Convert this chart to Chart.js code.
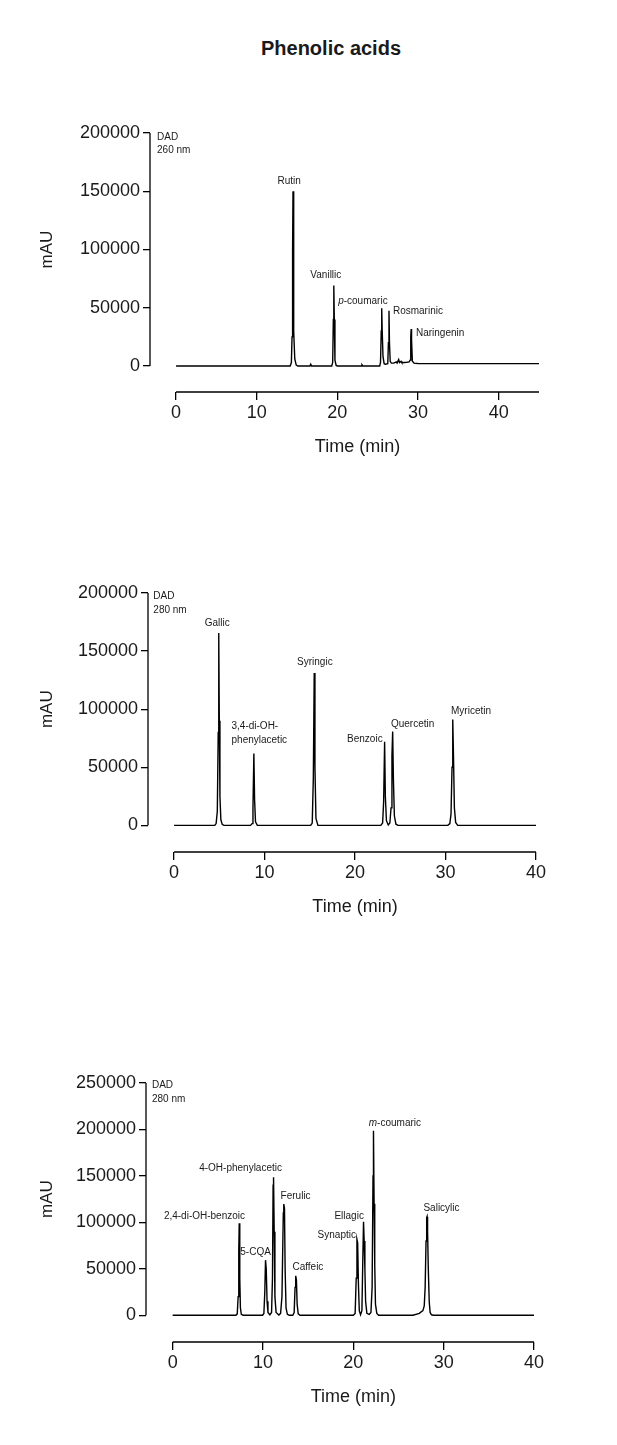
<!DOCTYPE html>
<html>
<head>
<meta charset="utf-8">
<script src="https://cdn.jsdelivr.net/npm/chart.js@4.4.1/dist/chart.umd.min.js"></script>
<style>
  body { margin: 0; background: #fff; width: 617px; height: 1445px; position: relative; overflow: hidden; }
  #title { position: absolute; left: 181px; top: 36px; width: 300px; text-align: center;
           font: bold 20px "Liberation Sans", Arial, sans-serif; line-height: 24px; color: #1a1a1a; }
  canvas { position: absolute; left: 0; }
</style>
</head>
<body>
<div id="title">Phenolic acids</div>
<canvas id="c1" width="617" height="389" style="top:93px"></canvas>
<canvas id="c2" width="617" height="389" style="top:553px"></canvas>
<canvas id="c3" width="617" height="389" style="top:1043px"></canvas>

<script>
const trace260 = [
  [0, 0], [14.15, 0], [14.3, 3000], [14.38, 25000], [14.45, 100000], [14.5, 150000], [14.55, 105000],
  [14.62, 30000], [14.72, 6000], [14.9, 800], [15.1, 0],
  [16.6, 0], [16.7, 1500], [16.8, 0],
  [19.3, 0], [19.42, 3000], [19.5, 40000], [19.56, 69000], [19.62, 40000], [19.7, 5000], [19.85, 500], [20.0, 0],
  [22.95, 0], [23.05, 1000], [23.15, 0],
  [25.25, 0], [25.35, 3000], [25.44, 30000], [25.5, 49500], [25.56, 30000], [25.66, 8000], [25.8, 2000], [25.95, 1500],
  [26.25, 2000], [26.33, 20000], [26.4, 47500], [26.46, 20000], [26.55, 4000], [26.7, 2500],
  [27.0, 2500], [27.3, 3500], [27.4, 2500], [27.6, 5500], [27.7, 3000], [27.9, 4000], [28.0, 2800],
  [28.3, 3000], [28.6, 3200], [28.9, 3500],
  [29.02, 5000], [29.1, 25000], [29.15, 31800], [29.2, 22000], [29.3, 4000], [29.5, 2500], [30, 2200], [45, 2000]
];

const trace280a = [
  [0, 0], [4.5, 0], [4.65, 1500], [4.78, 12000], [4.88, 80000], [4.94, 165600], [5.0, 90000], [5.07, 25000],
  [5.17, 5000], [5.32, 800], [5.5, 0],
  [8.45, 0], [8.62, 1500], [8.72, 15000], [8.82, 61900], [8.9, 22000], [9.0, 3000], [9.2, 0],
  [15.1, 0], [15.27, 2000], [15.39, 40000], [15.49, 131200], [15.57, 50000], [15.68, 6000], [15.9, 0],
  [22.85, 0], [23.05, 2000], [23.16, 20000], [23.27, 71900], [23.35, 25000], [23.47, 4000], [23.67, 300],
  [23.85, 2000], [23.98, 15000], [24.08, 60000], [24.16, 80800], [24.24, 40000], [24.35, 8000], [24.52, 1000], [24.75, 0],
  [30.25, 0], [30.48, 1500], [30.61, 10000], [30.72, 50000], [30.8, 91100], [30.88, 60000], [30.98, 15000],
  [31.12, 2500], [31.35, 0], [40, 0]
];

const trace280b = [
  [0, 0], [7.0, 0], [7.15, 1500], [7.25, 20000], [7.32, 70000], [7.37, 98900], [7.43, 40000], [7.5, 8000], [7.6, 1000], [7.8, 0],
  [9.95, 0], [10.1, 2000], [10.2, 25000], [10.28, 59300], [10.36, 50000], [10.45, 15000], [10.55, 3000], [10.76, 500],
  [10.95, 3000], [11.05, 40000], [11.12, 140000], [11.17, 148600], [11.24, 90000], [11.32, 20000], [11.45, 3000], [11.76, 300],
  [11.95, 2000], [12.1, 20000], [12.25, 110000], [12.3, 119700], [12.38, 115000], [12.45, 50000], [12.55, 8000], [12.7, 1000], [12.9, 0],
  [13.3, 0], [13.45, 3000], [13.55, 30000], [13.62, 42400], [13.7, 38000], [13.78, 12000], [13.9, 1500], [14.1, 0],
  [20.0, 0], [20.2, 2000], [20.32, 40000], [20.4, 81700], [20.48, 78000], [20.56, 35000], [20.66, 5000], [20.8, 500],
  [20.95, 5000], [21.05, 60000], [21.13, 100700], [21.2, 80000], [21.28, 50000], [21.36, 15000], [21.5, 2000], [21.76, 800],
  [21.95, 3000], [22.08, 30000], [22.18, 150000], [22.23, 198500], [22.3, 120000], [22.37, 55000], [22.45, 12000], [22.6, 2000], [22.8, 0],
  [26.6, 0], [27.3, 2000], [27.7, 5000], [27.85, 10000], [27.95, 30000], [28.05, 80000], [28.12, 105000], [28.16, 106100],
  [28.22, 90000], [28.3, 50000], [28.4, 15000], [28.5, 3000], [28.65, 500], [28.85, 0], [40, 0]
];

// tick labels
const xTicks = [0, 10, 20, 30, 40];
const yTicks200 = [0, 50000, 100000, 150000, 200000];
const yTicks250 = [0, 50000, 100000, 150000, 200000, 250000];

// nazwy pików
const peaks260 = ["Rutin", "Vanillic", "p-coumaric", "Rosmarinic", "Naringenin"];
const peaks280a = ["Gallic", "3,4-di-OH-", "phenylacetic", "Syringic", "Benzoic", "Quercetin", "Myricetin"];
const peaks280b = ["2,4-di-OH-benzoic", "5-CQA", "4-OH-phenylacetic", "Ferulic", "Caffeic", "Synaptic", "Ellagic", "m-coumaric", "Salicylic"];

const FONT = '"Liberation Sans", Arial, sans-serif';
const INK = '#1a1a1a';

// --- rysowanie ---
function buildChart(id, trace, ax, notes) {
  // osie odsunięte od wykresu + podpisy pików
  const extras = {
    id: 'extras',
    afterDraw(chart) {
      const { ctx, chartArea: ca, scales: { x, y } } = chart;
      ctx.save();
      ctx.strokeStyle = '#000';
      ctx.lineWidth = 1.3;
      ctx.beginPath();
      ctx.moveTo(ca.left, y.getPixelForValue(0));
      ctx.lineTo(ca.left, y.getPixelForValue(ax.yMax));
      ctx.moveTo(x.getPixelForValue(0), ca.bottom);
      ctx.lineTo(x.getPixelForValue(ax.xMax), ca.bottom);
      ctx.stroke();

      ctx.fillStyle = INK;
      ctx.textBaseline = 'middle';
      ctx.textAlign = 'center';
      ctx.font = '18px ' + FONT;
      ctx.fillText('Time (min)', (x.getPixelForValue(0) + x.getPixelForValue(ax.xMax)) / 2, ca.bottom + 55);
      ctx.save();
      ctx.translate(47, (y.getPixelForValue(0) + y.getPixelForValue(ax.yMax)) / 2);
      ctx.rotate(-Math.PI / 2);
      ctx.font = '17px ' + FONT;
      ctx.fillText('mAU', 0, 0);
      ctx.restore();

      notes.forEach(n => {
        const px = x.getPixelForValue(n.t);
        const py = y.getPixelForValue(n.v);
        ctx.font = '10px ' + FONT;
        const text = n.text;
        if (n.italic) {
          // pierwsza litera kursywą (p-, m-)
          const rest = text.slice(1);
          const wRest = ctx.measureText(rest).width;
          ctx.font = 'italic 10px ' + FONT;
          const wIt = ctx.measureText(text[0]).width;
          let start = px;
          if (n.align === 'center') start = px - (wIt + wRest) / 2;
          if (n.align === 'right') start = px - (wIt + wRest);
          ctx.textAlign = 'left';
          ctx.fillText(text[0], start, py);
          ctx.font = '10px ' + FONT;
          ctx.fillText(rest, start + wIt, py);
        } else {
          ctx.textAlign = n.align;
          ctx.fillText(text, px, py);
        }
      });
      ctx.restore();
    }
  };

  return new Chart(document.getElementById(id), {
    type: 'line',
    data: {
      datasets: [{
        data: trace.map(p => ({ x: p[0], y: p[1] })),
        borderColor: '#000',
        borderWidth: 1.4,
        pointRadius: 0,
        tension: 0,
        fill: false
      }]
    },
    options: {
      responsive: false,
      animation: false,
      devicePixelRatio: 1,
      layout: { padding: { top: 40, right: ax.padRight, bottom: 0, left: 0 } },
      plugins: { legend: { display: false }, tooltip: { enabled: false } },
      scales: {
        x: {
          type: 'linear', min: ax.xMin, max: ax.xMax,
          afterBuildTicks: s => { s.ticks = xTicks.map(v => ({ value: v })); },
          afterFit: s => { s.height = 90; },
          border: { display: false },
          grid: { drawOnChartArea: false, tickLength: 8, color: '#000', lineWidth: 1.3 },
          ticks: { color: INK, font: { size: 18, family: FONT }, padding: 2, maxRotation: 0, autoSkip: false,
                   callback: v => String(v) }
        },
        y: {
          type: 'linear', min: ax.yMin, max: ax.yMax,
          afterBuildTicks: s => { s.ticks = ax.yTicks.map(v => ({ value: v })); },
          afterFit: s => { s.width = ax.left; },
          border: { display: false },
          grid: { drawOnChartArea: false, tickLength: 7, color: '#000', lineWidth: 1.3 },
          ticks: { color: INK, font: { size: 18, family: FONT }, padding: 3, autoSkip: false,
                   callback: v => String(v) }
        }
      }
    },
    plugins: [extras]
  });
}

buildChart('c1', trace260,
  { xMin: -3.23, xMax: 45, yMin: -22318, yMax: 200000, yTicks: yTicks200, left: 150, padRight: 78 },
  [
    { text: 'DAD', t: -2.36, v: 196600, align: 'left' },
    { text: '260 nm', t: -2.36, v: 185400, align: 'left' },
    { text: peaks260[0], t: 14.02, v: 158200, align: 'center' },
    { text: peaks260[1], t: 18.57, v: 77500, align: 'center' },
    { text: peaks260[2], t: 20.1, v: 55200, align: 'left', italic: true },
    { text: peaks260[3], t: 26.89, v: 46600, align: 'left' },
    { text: peaks260[4], t: 29.74, v: 27700, align: 'left' }
  ]);

buildChart('c2', trace280a,
  { xMin: -2.88, xMax: 40, yMin: -22950, yMax: 200000, yTicks: yTicks200, left: 148, padRight: 81 },
  [
    { text: 'DAD', t: -2.29, v: 196800, align: 'left' },
    { text: '280 nm', t: -2.29, v: 185400, align: 'left' },
    { text: peaks280a[0], t: 4.76, v: 173600, align: 'center' },
    { text: peaks280a[1], t: 6.35, v: 85300, align: 'left' },
    { text: peaks280a[2], t: 6.35, v: 73300, align: 'left' },
    { text: peaks280a[3], t: 15.56, v: 140400, align: 'center' },
    { text: peaks280a[4], t: 23.05, v: 74500, align: 'right' },
    { text: peaks280a[5], t: 23.97, v: 86800, align: 'left' },
    { text: peaks280a[6], t: 30.61, v: 98000, align: 'left' }
  ]);

buildChart('c3', trace280b,
  { xMin: -2.95, xMax: 40, yMin: -28800, yMax: 250000, yTicks: yTicks250, left: 146, padRight: 83 },
  [
    { text: 'DAD', t: -2.29, v: 247100, align: 'left' },
    { text: '280 nm', t: -2.29, v: 232700, align: 'left' },
    { text: peaks280b[0], t: 3.52, v: 107100, align: 'center' },
    { text: peaks280b[1], t: 9.18, v: 68300, align: 'center' },
    { text: peaks280b[2], t: 7.52, v: 157900, align: 'center' },
    { text: peaks280b[3], t: 13.61, v: 128400, align: 'center' },
    { text: peaks280b[4], t: 14.97, v: 51500, align: 'center' },
    { text: peaks280b[5], t: 18.17, v: 86300, align: 'center' },
    { text: peaks280b[6], t: 19.54, v: 107100, align: 'center' },
    { text: peaks280b[7], t: 21.71, v: 206800, align: 'left', italic: true },
    { text: peaks280b[8], t: 29.76, v: 114700, align: 'center' }
  ]);
</script>
</body>
</html>
